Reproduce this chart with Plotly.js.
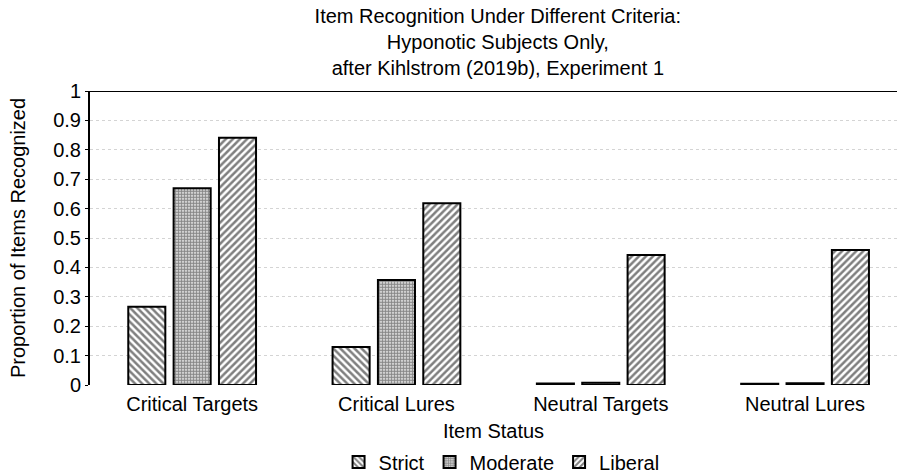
<!DOCTYPE html>
<html>
<head>
<meta charset="utf-8">
<script src="https://cdn.plot.ly/plotly-3.0.1.min.js"></script>
<style>html,body{margin:0;padding:0;background:#fff;}#chart{width:897px;height:473px;}</style>
</head>
<body>
<div id="chart"></div>
<script>
const categories = ["Critical Targets", "Critical Lures", "Neutral Targets", "Neutral Lures"];
const strictValues = [0.266, 0.129, 0.005, 0.004];
const moderateValues = [0.669, 0.357, 0.008, 0.006];
const liberalValues = [0.841, 0.618, 0.442, 0.459];
const seriesNames = ["Strict", "Moderate", "Liberal"];
const yTickValues = [0, 0.1, 0.2, 0.3, 0.4, 0.5, 0.6, 0.7, 0.8, 0.9, 1];
const yTickLabels = ["0", "0.1", "0.2", "0.3", "0.4", "0.5", "0.6", "0.7", "0.8", "0.9", "1"];

const FONT = "Liberation Sans, Arial, Helvetica, sans-serif";
function mk(name, vals, shape, size, sol, fg) {
  return {
    type: "bar", name: name, x: categories, y: vals,
    marker: {
      color: "#ffffff",
      line: {color: "#000000", width: 2},
      pattern: {shape: shape, fgcolor: fg, bgcolor: "#ffffff", size: size, solidity: sol, fillmode: "overlay"}
    }
  };
}
const data = [
  mk(seriesNames[0], strictValues, "\\", 5, 0.5, "#000000"),
  mk(seriesNames[1], moderateValues, ".", 3, 0.7, "#111111"),
  mk(seriesNames[2], liberalValues, "/", 5, 0.5, "#000000")
];
const layout = {
  width: 897, height: 473,
  margin: {l: 90, r: 0, t: 91, b: 88},
  paper_bgcolor: "#ffffff", plot_bgcolor: "#ffffff",
  font: {family: FONT, color: "#000000", size: 20},
  title: {
    text: "Item Recognition Under Different Criteria:<br>Hyponotic Subjects Only,<br>after Kihlstrom (2019b), Experiment 1",
    font: {family: FONT, size: 20, color: "#000"},
    x: 0.555, xanchor: "center", xref: "container", y: 0.952, yanchor: "top", yref: "container"
  },
  barmode: "group", bargap: 0.334, bargroupgap: 0.183,
  xaxis: {
    title: {text: "Item Status", font: {family: FONT, size: 20}, standoff: 9},
    range: [-0.5, 3.45], automargin: false,
    showline: false, showgrid: false, zeroline: false, ticks: "", ticklabelstandoff: 5,
    tickfont: {family: FONT, size: 20}
  },
  yaxis: {
    title: {text: "Proportion of Items Recognized", font: {family: FONT, size: 20}, standoff: 22},
    range: [0, 1], tickvals: yTickValues, ticktext: yTickLabels, automargin: false,
    showline: true, linecolor: "#000", linewidth: 2, mirror: false,
    ticks: "outside", ticklen: 3, tickcolor: "#000",
    showgrid: true, gridcolor: "#d4d4d4", griddash: "dot", gridwidth: 1,
    zeroline: false, tickfont: {family: FONT, size: 20}
  },
  shapes: [{type: "line", xref: "paper", yref: "y", x0: 0, x1: 1, y0: 1, y1: 1, line: {color: "#000", width: 2}}],
  legend: {orientation: "h", x: 0.51, xanchor: "center", xref: "paper", y: 0.023, yanchor: "middle", yref: "container",
    font: {family: FONT, size: 20}, itemwidth: 30, traceorder: "normal"},
  showlegend: true
};
Plotly.newPlot("chart", data, layout, {displayModeBar: false, staticPlot: true});
</script>
</body>
</html>
